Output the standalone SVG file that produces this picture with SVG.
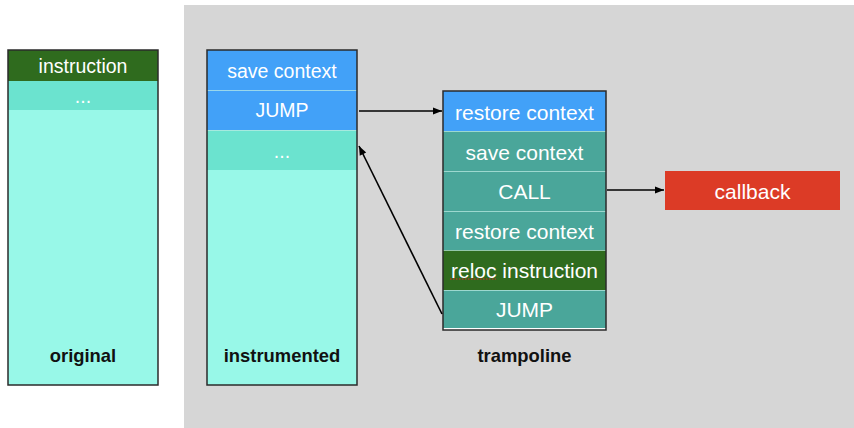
<svg xmlns="http://www.w3.org/2000/svg" width="854" height="428" viewBox="0 0 854 428">
  <style>
    .frame { fill: none; stroke: #2b2b2b; stroke-width: 1.5; }
    .sep { stroke: #bfeee6; stroke-width: 1; opacity: 0.7; }
    .cell { font-family: "Liberation Sans", Arial, sans-serif; font-size: 19.5px; fill: #ffffff; text-anchor: middle; dominant-baseline: central; }
    .big { font-size: 21px; }
    .label { font-family: "Liberation Sans", Arial, sans-serif; font-size: 18.4px; font-weight: bold; fill: #111111; text-anchor: middle; dominant-baseline: central; }
    .link { stroke: #000000; stroke-width: 1.6; fill: none; marker-end: url(#head); }
    .green { fill: #2f6b1e; }
    .mid { fill: #6be3cf; }
    .light { fill: #98f8e8; }
    .blue { fill: #42a1f8; }
    .teal { fill: #4aa69a; }
  </style>
  <defs>
    <marker id="head" viewBox="0 0 10 10" refX="10" refY="5" markerWidth="10" markerHeight="9" markerUnits="userSpaceOnUse" orient="auto">
      <path d="M0,1 L10,5 L0,9 Z" fill="#000000"/>
    </marker>
  </defs>

  <!-- canvas -->
  <rect x="0" y="0" width="854" height="428" fill="#ffffff"/>
  <rect x="184" y="5" width="670" height="423" fill="#d6d6d6"/>

  <!-- original code block -->
  <g id="original">
    <rect x="8" y="50" width="150" height="335" class="light"/>
    <rect x="8" y="50" width="150" height="31" class="green"/>
    <rect x="8" y="81" width="150" height="29" class="mid"/>
    <text x="83" y="66" class="cell">instruction</text>
    <text x="83" y="96" class="cell">...</text>
    <text x="83" y="355" class="label">original</text>
    <rect x="8" y="50" width="150" height="335" class="frame"/>
  </g>

  <!-- instrumented code block -->
  <g id="instrumented">
    <rect x="207" y="50" width="150" height="335" class="light"/>
    <rect x="207" y="50" width="150" height="40" class="blue"/>
    <rect x="207" y="90" width="150" height="40" class="blue"/>
    <rect x="207" y="130" width="150" height="40" class="mid"/>
    <line x1="207" y1="90.5" x2="357" y2="90.5" class="sep"/>
    <line x1="207" y1="130.5" x2="357" y2="130.5" class="sep"/>
    <text x="282" y="71" class="cell">save context</text>
    <text x="282" y="110" class="cell">JUMP</text>
    <text x="282" y="151" class="cell">...</text>
    <text x="282" y="355" class="label">instrumented</text>
    <rect x="207" y="50" width="150" height="335" class="frame"/>
  </g>

  <!-- trampoline block -->
  <g id="trampoline">
    <rect x="443" y="91" width="163" height="239" fill="#ffffff"/>
    <rect x="443" y="91" width="163" height="40" class="blue"/>
    <rect x="443" y="131" width="163" height="40" class="teal"/>
    <rect x="443" y="171" width="163" height="40" class="teal"/>
    <rect x="443" y="211" width="163" height="39" class="teal"/>
    <rect x="443" y="250" width="163" height="40" class="green"/>
    <rect x="443" y="290" width="163" height="38" class="teal"/>
    <line x1="443" y1="131.5" x2="606" y2="131.5" class="sep"/>
    <line x1="443" y1="171.5" x2="606" y2="171.5" class="sep"/>
    <line x1="443" y1="211.5" x2="606" y2="211.5" class="sep"/>
    <line x1="443" y1="250.5" x2="606" y2="250.5" class="sep"/>
    <line x1="443" y1="290.5" x2="606" y2="290.5" class="sep"/>
    <text x="524.5" y="112" class="cell big">restore context</text>
    <text x="524.5" y="152" class="cell big">save context</text>
    <text x="524.5" y="191" class="cell big">CALL</text>
    <text x="524.5" y="231" class="cell big">restore context</text>
    <text x="524.5" y="270" class="cell big">reloc instruction</text>
    <line x1="450" y1="279" x2="496" y2="279" stroke="#e0281e" stroke-width="1.2" stroke-dasharray="1.5,1.5"/>
    <text x="524.5" y="309" class="cell big">JUMP</text>
    <text x="524.5" y="355" class="label">trampoline</text>
    <rect x="443" y="91" width="163" height="239" class="frame"/>
  </g>

  <!-- callback target -->
  <g id="callback">
    <rect x="665" y="171" width="175" height="39" fill="#dc3b26"/>
    <text x="752.5" y="191" class="cell big">callback</text>
  </g>

  <!-- connectors -->
  <g id="connectors">
    <line x1="359" y1="111" x2="442" y2="111" class="link"/>
    <line x1="607" y1="190" x2="664" y2="190" class="link"/>
    <line x1="442" y1="314" x2="359" y2="146" class="link"/>
  </g>
</svg>
